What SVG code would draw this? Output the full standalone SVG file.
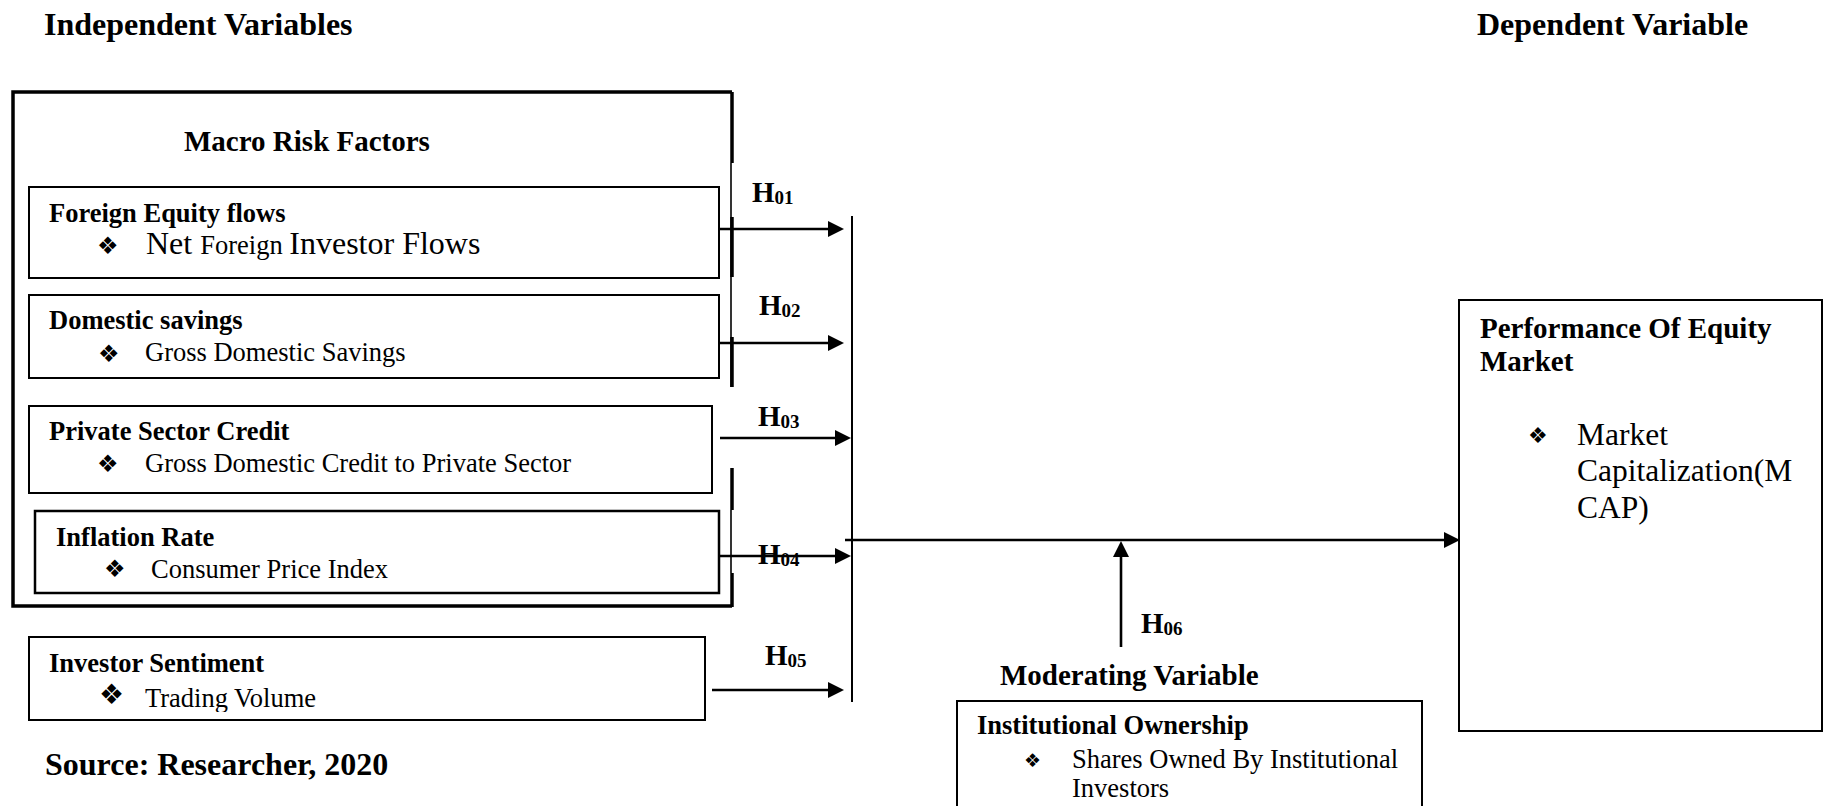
<svg xmlns="http://www.w3.org/2000/svg" width="1824" height="806" viewBox="0 0 1824 806">
<style>
  text { font-family: "Liberation Serif", "Times New Roman", serif; fill: #000; }
  .title { font-size: 32px; font-weight: bold; }
  .h29 { font-size: 29px; font-weight: bold; }
  .hd { font-size: 26.5px; font-weight: bold; }
  .bd { font-size: 26.5px; }
  .big { font-size: 31.5px; }
  .big2 { font-size: 32px; }
  .bul { font-family: "DejaVu Sans", sans-serif; font-size: 24px; }
  .hl { font-size: 29px; font-weight: bold; }
  .sub { font-size: 19px; font-weight: bold; }
  .box { fill: #fff; stroke: #000; stroke-width: 2; }
  .thick { fill: none; stroke: #000; stroke-width: 3.5; }
  .edge { stroke: #000; stroke-width: 3.5; }
  .thin { stroke: #000; stroke-width: 1.6; }
  .conn { stroke: #000; stroke-width: 2.6; fill: none; }
  .bar { stroke: #000; stroke-width: 2; }
</style>
<defs>
  <marker id="arr" markerUnits="userSpaceOnUse" markerWidth="16" markerHeight="16" viewBox="0 0 16 16" refX="4" refY="8" orient="auto">
    <path d="M0,0 L16,8 L0,16 z" fill="#000"/>
  </marker>
  <clipPath id="clipTV">
    <rect x="29" y="637" width="676" height="75"/>
  </clipPath>
</defs>
<rect width="1824" height="806" fill="#fff"/>

<text class="title" x="44" y="35">Independent Variables</text>
<text class="title" x="1477" y="35">Dependent Variable</text>

<g id="macro-risk-factors">
  <path class="thick" d="M732,92 H13 V606 H732"/>
  <line class="edge" x1="732" y1="92" x2="732" y2="163"/>
  <line class="thin" x1="731" y1="163" x2="731" y2="387"/>
  <line class="edge" x1="732" y1="217" x2="732" y2="277"/>
  <line class="edge" x1="732" y1="337" x2="732" y2="387"/>
  <line class="edge" x1="732" y1="468" x2="732" y2="510"/>
  <line class="thin" x1="731" y1="510" x2="731" y2="573"/>
  <line class="edge" x1="732" y1="573" x2="732" y2="607"/>
  <text class="h29" x="184" y="151">Macro Risk Factors</text>
</g>

<g id="foreign-equity-flows">
  <rect class="box" x="29" y="187" width="690" height="91"/>
  <text class="hd" x="49" y="222">Foreign Equity flows</text>
  <text class="bul" x="97" y="254">❖</text>
  <text x="146" y="254"><tspan class="big2">Net </tspan><tspan class="bd">Foreign </tspan><tspan class="big2">Investor Flows</tspan></text>
</g>

<g id="domestic-savings">
  <rect class="box" x="29" y="295" width="690" height="83"/>
  <text class="hd" x="49" y="329">Domestic savings</text>
  <text class="bul" x="98" y="362">❖</text>
  <text class="bd" x="145" y="361">Gross Domestic Savings</text>
</g>

<g id="private-sector-credit">
  <rect class="box" x="29" y="406" width="683" height="87"/>
  <text class="hd" x="49" y="440">Private Sector Credit</text>
  <text class="bul" x="97" y="472">❖</text>
  <text class="bd" x="145" y="472">Gross Domestic Credit to Private Sector</text>
</g>

<g id="inflation-rate">
  <rect class="box" x="35" y="511" width="684" height="82" style="stroke-width:2.5"/>
  <text class="hd" x="56" y="546">Inflation Rate</text>
  <text class="bul" x="104" y="577">❖</text>
  <text class="bd" x="151" y="578">Consumer Price Index</text>
</g>

<g id="investor-sentiment">
  <rect class="box" x="29" y="637" width="676" height="83"/>
  <text class="hd" x="49" y="672">Investor Sentiment</text>
  <g clip-path="url(#clipTV)">
    <text class="bul" x="99" y="704" style="font-size:28px">❖</text>
    <text class="bd" x="145" y="707">Trading Volume</text>
  </g>
</g>

<g id="institutional-ownership">
  <text class="h29" x="1000" y="685">Moderating Variable</text>
  <rect class="box" x="957" y="701" width="465" height="130"/>
  <text class="hd" x="977" y="734">Institutional Ownership</text>
  <text class="bul" x="1024" y="767" style="font-size:19px">❖</text>
  <text class="bd" x="1072" y="768">Shares Owned By Institutional</text>
  <text class="bd" x="1072" y="797">Investors</text>
</g>

<g id="performance-of-equity-market">
  <rect class="box" x="1459" y="300" width="363" height="431"/>
  <text class="h29" x="1480" y="338">Performance Of Equity</text>
  <text class="h29" x="1480" y="371">Market</text>
  <text class="bul" x="1528" y="443" style="font-size:22px">❖</text>
  <text class="big" x="1577" y="445">Market</text>
  <text class="big" x="1577" y="481">Capitalization(M</text>
  <text class="big" x="1577" y="518">CAP)</text>
</g>

<g id="connectors">
  <line class="bar" x1="852" y1="216" x2="852" y2="702"/>
  <line class="conn" x1="719" y1="229" x2="832" y2="229" marker-end="url(#arr)"/>
  <line class="conn" x1="719" y1="343" x2="832" y2="343" marker-end="url(#arr)"/>
  <line class="conn" x1="720" y1="438" x2="839" y2="438" marker-end="url(#arr)"/>
  <line class="conn" x1="719" y1="556" x2="839" y2="556" marker-end="url(#arr)"/>
  <line class="conn" x1="712" y1="690" x2="832" y2="690" marker-end="url(#arr)"/>
  <line class="conn" x1="845" y1="540" x2="1448" y2="540" marker-end="url(#arr)"/>
  <line class="conn" x1="1121" y1="647" x2="1121" y2="553" marker-end="url(#arr)"/>
</g>

<g id="hypothesis-labels">
  <text x="752" y="202"><tspan class="hl">H</tspan><tspan class="sub" dy="2">01</tspan></text>
  <text x="759" y="315"><tspan class="hl">H</tspan><tspan class="sub" dy="2">02</tspan></text>
  <text x="758" y="426"><tspan class="hl">H</tspan><tspan class="sub" dy="2">03</tspan></text>
  <text x="758" y="564"><tspan class="hl">H</tspan><tspan class="sub" dy="2">04</tspan></text>
  <text x="765" y="665"><tspan class="hl">H</tspan><tspan class="sub" dy="2">05</tspan></text>
  <text x="1141" y="633"><tspan class="hl">H</tspan><tspan class="sub" dy="2">06</tspan></text>
</g>

<text class="title" x="45" y="775">Source: Researcher, 2020</text>
</svg>
